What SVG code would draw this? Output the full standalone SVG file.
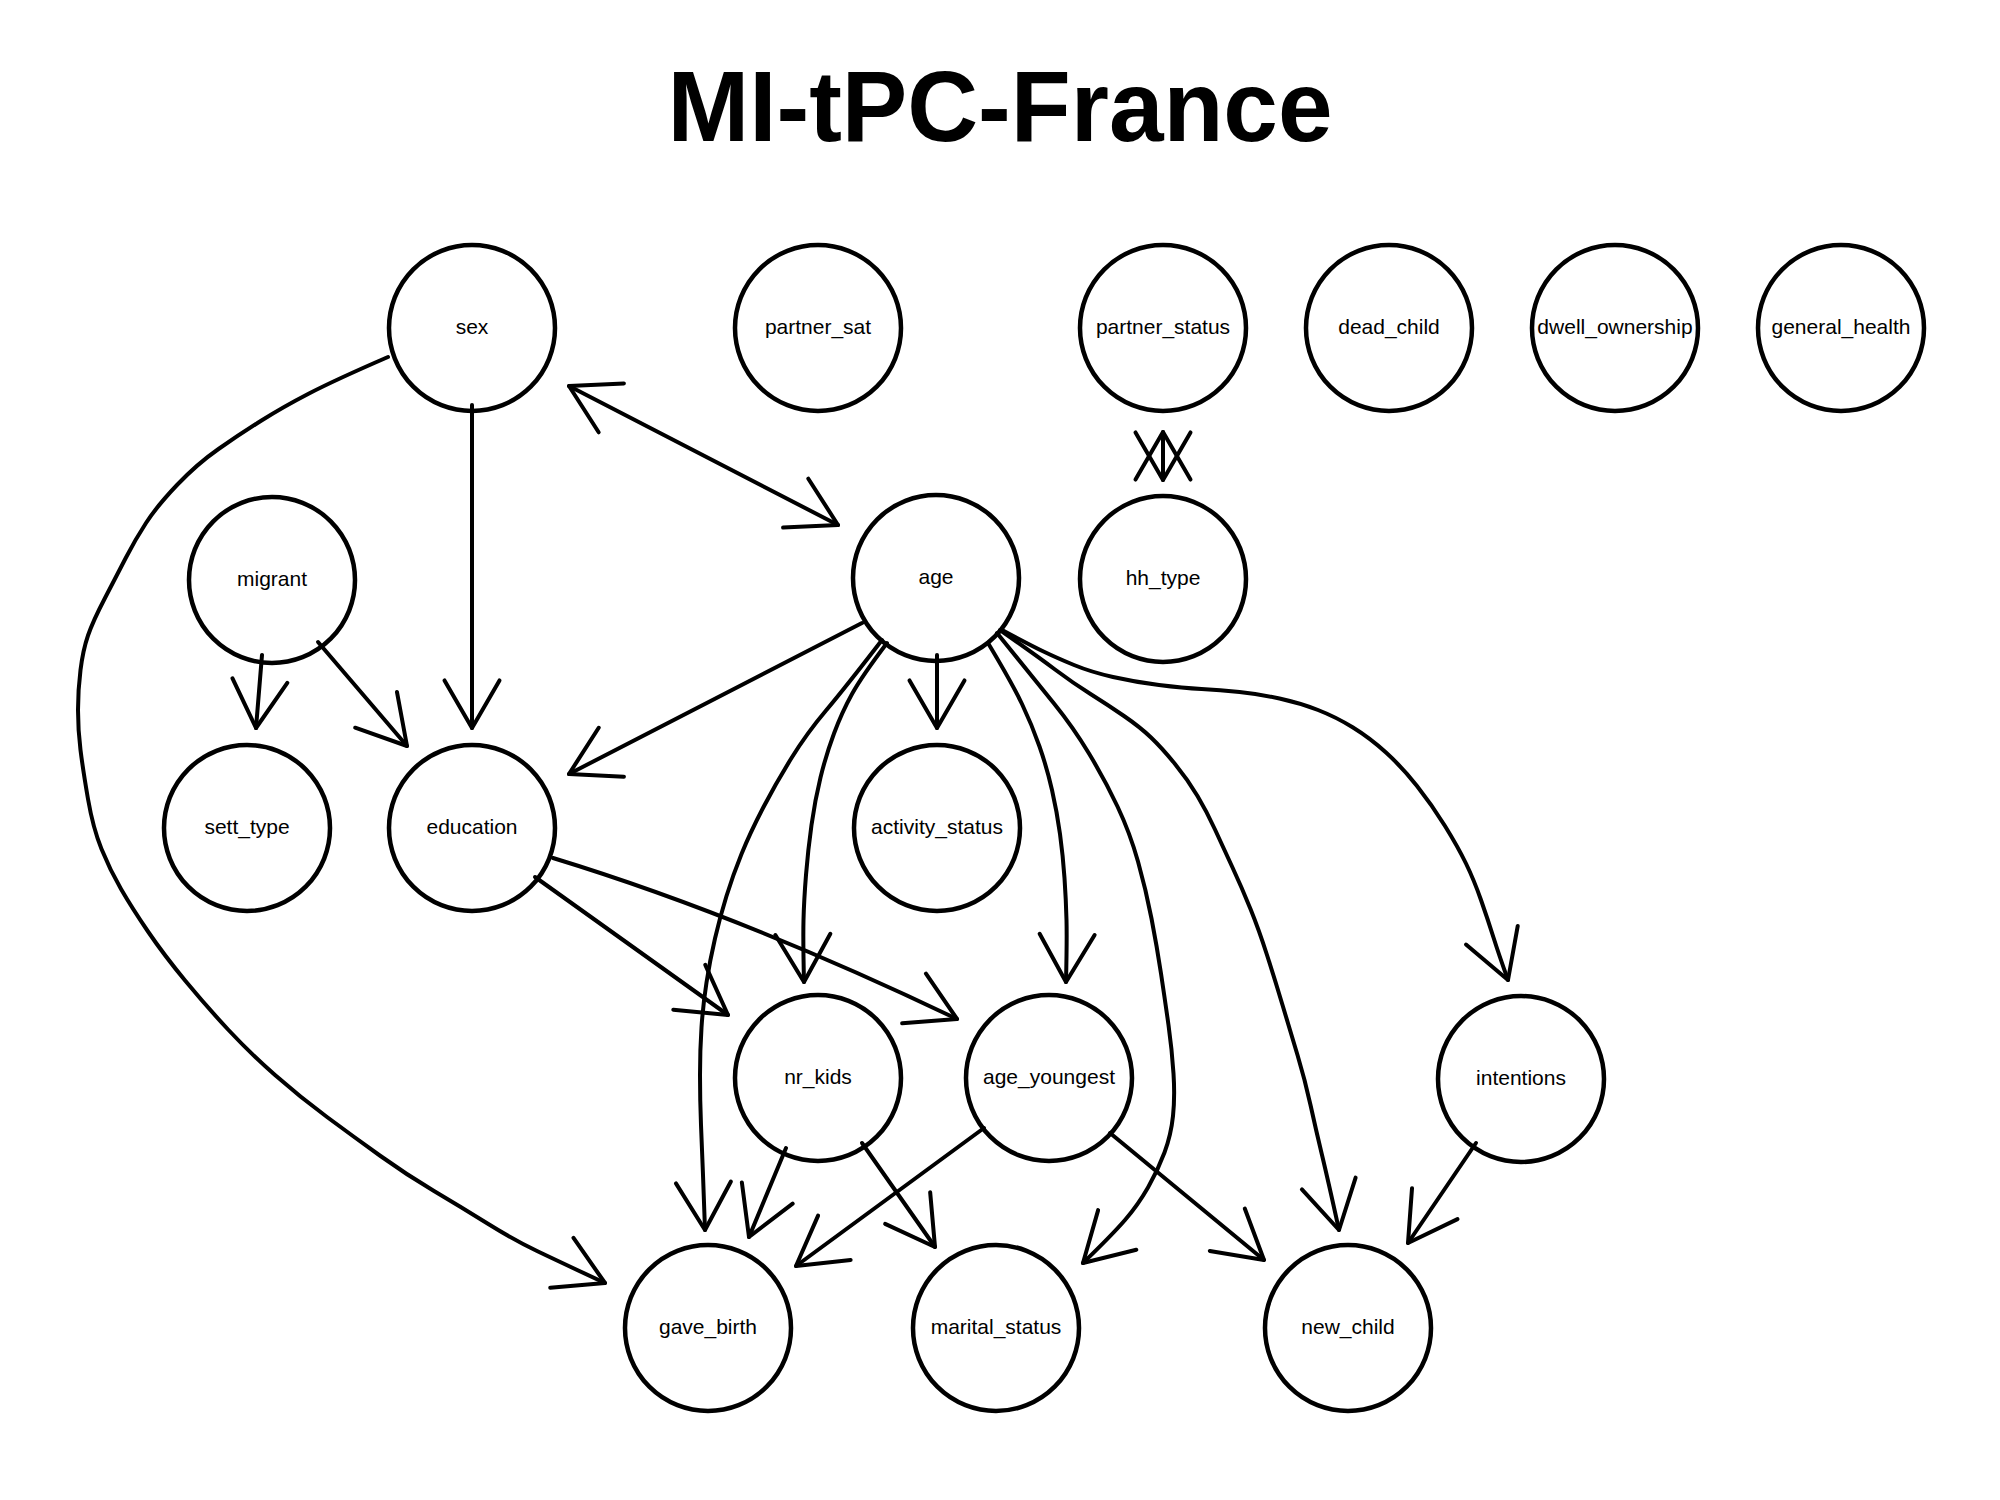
<svg xmlns="http://www.w3.org/2000/svg" width="2000" height="1500" viewBox="0 0 2000 1500">
<style>
.node circle{fill:#fff;stroke:#000;stroke-width:4.5}
.node text{font-family:"Liberation Sans",Arial,sans-serif;font-size:21px;fill:#000;text-anchor:middle}
.edges path{fill:none;stroke:#000;stroke-width:4;stroke-linejoin:round;stroke-linecap:round;marker-end:url(#arr)}
.edges path.bi{marker-start:url(#arr)}
.title{font-family:"Liberation Sans",Arial,sans-serif;font-weight:bold;font-size:100px;fill:#000;text-anchor:middle}
</style>
<defs>
<marker id="arr" markerUnits="userSpaceOnUse" orient="auto-start-reverse" refX="0" refY="0" markerWidth="120" markerHeight="120" viewBox="-60 -60 120 120" overflow="visible">
<path d="M-47.6,-27.5 L0,0 L-47.6,27.5" fill="none" stroke="#000" stroke-width="4" stroke-linecap="round" stroke-linejoin="round"/>
</marker>
</defs>
<rect width="2000" height="1500" fill="#fff"/>
<text class="title" x="1000" y="141" textLength="665" lengthAdjust="spacingAndGlyphs">MI-tPC-France</text>
<g id="nodes">
<g id="sex" class="node"><circle cx="472" cy="328" r="83"/><text x="472" y="334">sex</text></g>
<g id="partner_sat" class="node"><circle cx="818" cy="328" r="83"/><text x="818" y="334">partner_sat</text></g>
<g id="partner_status" class="node"><circle cx="1163" cy="328" r="83"/><text x="1163" y="334">partner_status</text></g>
<g id="dead_child" class="node"><circle cx="1389" cy="328" r="83"/><text x="1389" y="334">dead_child</text></g>
<g id="dwell_ownership" class="node"><circle cx="1615" cy="328" r="83"/><text x="1615" y="334">dwell_ownership</text></g>
<g id="general_health" class="node"><circle cx="1841" cy="328" r="83"/><text x="1841" y="334">general_health</text></g>
<g id="migrant" class="node"><circle cx="272" cy="580" r="83"/><text x="272" y="586">migrant</text></g>
<g id="age" class="node"><circle cx="936" cy="578" r="83"/><text x="936" y="584">age</text></g>
<g id="hh_type" class="node"><circle cx="1163" cy="579" r="83"/><text x="1163" y="585">hh_type</text></g>
<g id="sett_type" class="node"><circle cx="247" cy="828" r="83"/><text x="247" y="834">sett_type</text></g>
<g id="education" class="node"><circle cx="472" cy="828" r="83"/><text x="472" y="834">education</text></g>
<g id="activity_status" class="node"><circle cx="937" cy="828" r="83"/><text x="937" y="834">activity_status</text></g>
<g id="nr_kids" class="node"><circle cx="818" cy="1078" r="83"/><text x="818" y="1084">nr_kids</text></g>
<g id="age_youngest" class="node"><circle cx="1049" cy="1078" r="83"/><text x="1049" y="1084">age_youngest</text></g>
<g id="intentions" class="node"><circle cx="1521" cy="1079" r="83"/><text x="1521" y="1085">intentions</text></g>
<g id="gave_birth" class="node"><circle cx="708" cy="1328" r="83"/><text x="708" y="1334">gave_birth</text></g>
<g id="marital_status" class="node"><circle cx="996" cy="1328" r="83"/><text x="996" y="1334">marital_status</text></g>
<g id="new_child" class="node"><circle cx="1348" cy="1328" r="83"/><text x="1348" y="1334">new_child</text></g>
</g>
<g id="connectors" class="edges">
<path class="bi" d="M569,386 L838,525"/>
<path class="bi" d="M1163,432 L1163,480"/>
<path d="M472,405 L472,728"/>
<path d="M262,655 L256,728"/>
<path d="M318,642 L407,746"/>
<path d="M862,623 L569,774"/>
<path d="M937,655 L937,728"/>
<path d="M535,877 L728,1015"/>
<path d="M553,858 Q740,915 957,1019"/>
<path d="M786,1148 L749,1237"/>
<path d="M862,1143 L935,1247"/>
<path d="M984,1128 L796,1266"/>
<path d="M1110,1133 L1264,1260"/>
<path d="M1476,1143 L1408,1243"/>
<path d="M388,357 Q335,380 309,393.5 Q283,407 261.5,420.5 Q240,434 218.5,449 Q197,464 177,485 Q157,506 146,523 Q135,540 126,557.5 Q117,575 105,598 Q93,621 88,635.5 Q83,650 80.5,670 Q78,690 78,710 Q78,730 80.5,750 Q83,770 88,799 Q93,828 101.5,849 Q110,870 121,889 Q132,908 148,931.5 Q164,955 185.5,981 Q207,1007 228.5,1030 Q250,1053 275,1075 Q300,1097 327,1117 Q354,1137 380.5,1156 Q407,1175 434,1191 Q461,1207 487.5,1223.5 Q514,1240 537,1251 Q560,1262 605,1283"/>
<path d="M882,640 Q845,688 826,710.5 Q807,733 791.5,758 Q776,783 763,808 Q750,833 741.5,854 Q733,875 726.5,896 Q720,917 715,938.5 Q710,960 706.5,982.5 Q703,1005 701.5,1027.5 Q700,1050 700,1075 Q700,1100 701,1125 Q702,1150 703,1175 Q704,1200 705,1230"/>
<path d="M887,643 Q862,676 852,694 Q842,712 834,733.5 Q826,755 820.5,777.5 Q815,800 811.5,825 Q808,850 806,875 Q804,900 803.5,920 Q803,940 804,982"/>
<path d="M988,643 Q1012,683 1022,704 Q1032,725 1039.5,746.5 Q1047,768 1052,790 Q1057,812 1060,834 Q1063,856 1064.5,878 Q1066,900 1066.5,920 Q1067,940 1066,982"/>
<path d="M997,633 Q1035,680 1054,703.5 Q1073,727 1089,753.5 Q1105,780 1117.5,806.5 Q1130,833 1138,861.5 Q1146,890 1151.5,918.5 Q1157,947 1161,973.5 Q1165,1000 1168.5,1025 Q1172,1050 1173.5,1073.5 Q1175,1097 1173,1116 Q1171,1135 1164.5,1152.5 Q1158,1170 1148,1187.5 Q1138,1205 1125,1220 Q1112,1235 1083,1263"/>
<path d="M1000,630 Q1037,656 1055,669.5 Q1073,683 1090.5,694 Q1108,705 1124,716 Q1140,727 1151,737.5 Q1162,748 1175,764 Q1188,780 1197.5,796 Q1207,812 1215,829.5 Q1223,847 1232.5,867.5 Q1242,888 1250.5,909 Q1259,930 1267,955 Q1275,980 1282.5,1005 Q1290,1030 1297.5,1055 Q1305,1080 1310.5,1105 Q1316,1130 1322,1155 Q1328,1180 1339,1230"/>
<path d="M1002,630 Q1030,645 1043.5,651.5 Q1057,658 1074,665 Q1091,672 1113,677 Q1135,682 1159,685 Q1183,688 1201.5,689 Q1220,690 1239.5,692 Q1259,694 1279.5,698.5 Q1300,703 1318,710 Q1336,717 1353,727.5 Q1370,738 1386,752.5 Q1402,767 1417,786 Q1432,805 1445,826 Q1458,847 1466,863.5 Q1474,880 1481,900 Q1488,920 1493.5,937.5 Q1499,955 1508,980"/>
</g>
</svg>
